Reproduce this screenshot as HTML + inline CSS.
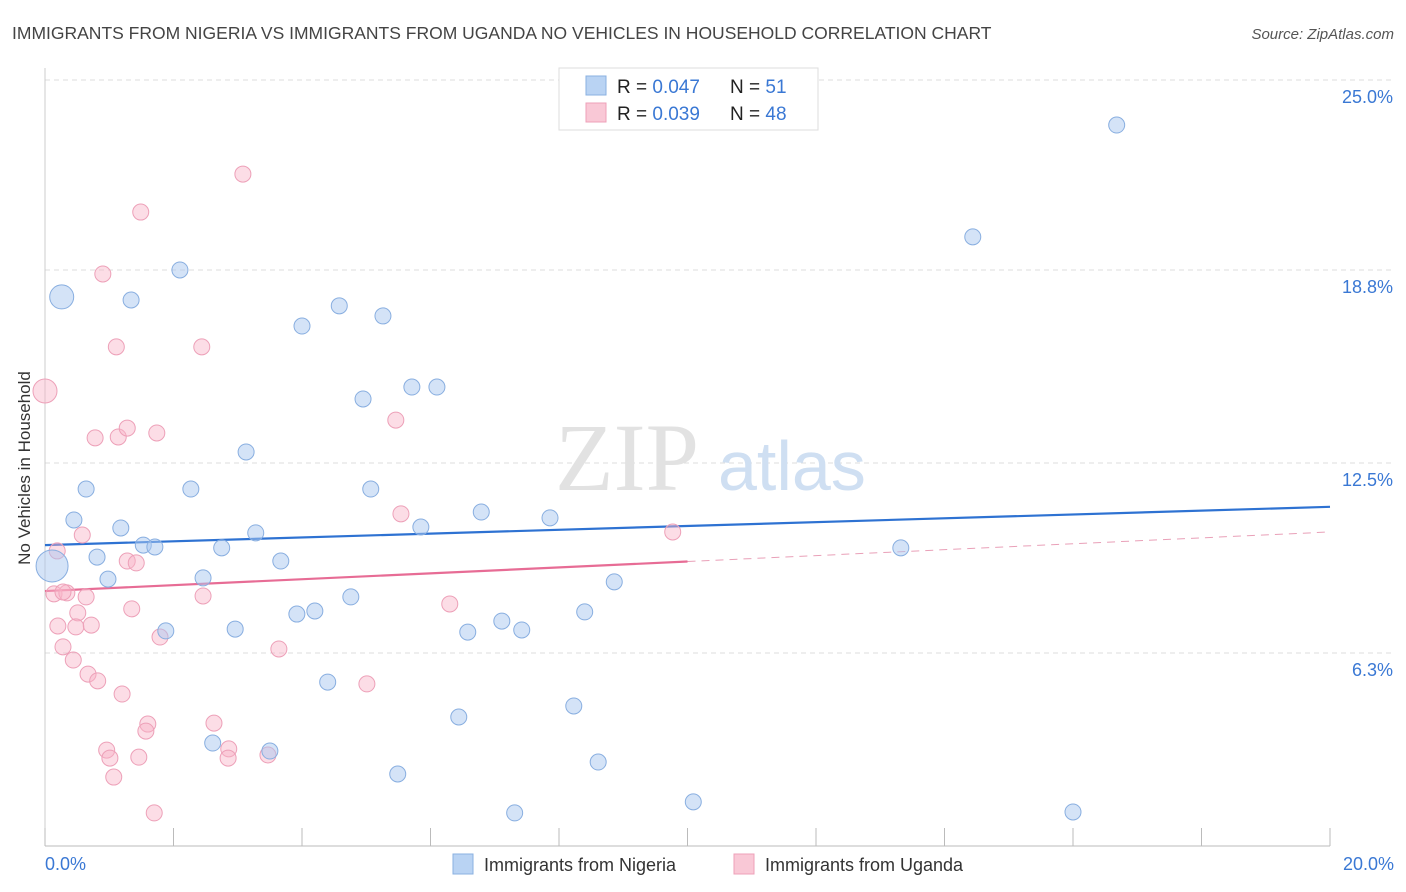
<!DOCTYPE html>
<html><head><meta charset="utf-8"><style>
body{margin:0;background:#fff;width:1406px;height:892px;overflow:hidden;font-family:"Liberation Sans",sans-serif}
svg{position:absolute;left:0;top:0}
</style></head><body>
<svg id="chart" width="1406" height="892" font-family="Liberation Sans, sans-serif">
<text x="12" y="39" font-size="17.5" fill="#444">IMMIGRANTS FROM NIGERIA VS IMMIGRANTS FROM UGANDA NO VEHICLES IN HOUSEHOLD CORRELATION CHART</text>
<text x="1394" y="39" font-size="15" fill="#555" font-style="italic" text-anchor="end">Source: ZipAtlas.com</text>
<text x="18" y="456" font-size="17" fill="#333" transform="rotate(-90 30 456)" text-anchor="middle">No Vehicles in Household</text>
<g id="grid"></g>
<text x="555" y="490" font-size="96" fill="#e2e2e2" font-family="Liberation Serif, serif">ZIP</text>
<text x="718" y="490" font-size="70" fill="#cfdff2">atlas</text>
<g id="trend"></g>
<g id="points"></g>
<g>
<rect x="559" y="68" width="259" height="62" fill="#fff" stroke="#ddd"/>
<rect x="586" y="76" width="20" height="19" fill="#b9d3f3" stroke="#8ab0e0"/>
<rect x="586" y="103" width="20" height="19" fill="#f9c8d6" stroke="#eea0b8"/>
<text x="617" y="93" font-size="19" fill="#222">R = <tspan fill="#3a78d4">0.047</tspan></text>
<text x="730" y="93" font-size="19" fill="#222">N = <tspan fill="#3a78d4"> 51</tspan></text>
<text x="617" y="120" font-size="19" fill="#222">R = <tspan fill="#3a78d4">0.039</tspan></text>
<text x="730" y="120" font-size="19" fill="#222">N = <tspan fill="#3a78d4">48</tspan></text>
</g>
<g>
<rect x="453" y="854" width="20" height="20" fill="#b9d3f3" stroke="#8ab0e0"/>
<text x="484" y="871" font-size="18" fill="#333">Immigrants from Nigeria</text>
<rect x="734" y="854" width="20" height="20" fill="#f9c8d6" stroke="#eea0b8"/>
<text x="765" y="871" font-size="18" fill="#333">Immigrants from Uganda</text>
</g>
</svg>
<script>
const blueX=[0.26,0.11,1.34,2.10,4.00,4.58,5.26,4.95,5.71,6.10,3.13,0.64,2.27,5.07,0.45,1.18,3.28,5.85,6.79,7.86,1.53,1.71,2.75,0.81,3.67,0.98,2.46,8.86,4.76,3.92,4.20,8.40,7.11,1.88,2.96,6.58,7.42,4.40,6.44,8.23,2.61,3.50,5.49,8.61,10.09,7.31,16.00,13.32,14.44,16.68,11.35];
const blueY=[17.92,9.14,17.82,18.80,16.97,17.63,17.30,14.59,14.98,14.98,12.86,11.65,11.65,11.65,10.64,10.38,10.22,10.41,10.90,10.71,9.82,9.76,9.73,9.43,9.30,8.71,8.75,8.62,8.13,7.57,7.67,7.64,7.34,7.02,7.08,6.98,7.05,5.35,4.21,4.57,3.36,3.10,2.35,2.74,1.44,1.08,1.11,9.73,19.88,23.53,25.07];
const blueR=[12,16];
const pinkX=[0,3.08,1.49,0.90,1.11,2.44,5.46,0.78,1.14,1.28,1.74,0.58,0.19,5.54,9.77,1.28,1.42,0.14,0.34,0.64,2.46,1.35,0.51,6.30,0.20,0.48,0.72,1.79,3.64,0.28,0.44,0.67,0.82,5.01,1.20,1.60,1.57,2.63,0.96,2.86,3.47,1.01,1.46,2.85,1.07,1.70,0.28];
const pinkY=[14.85,21.93,20.69,18.67,16.29,16.29,13.90,13.32,13.35,13.64,13.48,10.15,9.63,10.84,10.25,9.30,9.24,8.23,8.26,8.13,8.16,7.74,7.61,7.90,7.18,7.15,7.21,6.82,6.43,6.50,6.07,5.61,5.39,5.29,4.96,3.98,3.75,4.01,3.13,3.17,2.97,2.87,2.90,2.87,2.25,1.08,8.29];
const blueTrend=[9.82,11.07];
const pinkTrend=[8.32,10.25];
const yTicks=[25.0,18.8,12.5,6.3];
const yTickLabels=["25.0%","18.8%","12.5%","6.3%"];
const xMax=20,yMax=25;
const NS="http://www.w3.org/2000/svg";
function sx(v){return 45+v/xMax*1285;}
function sy(v){return 846-v/yMax*766;}
function mk(tag,attrs,parent){const e=document.createElementNS(NS,tag);for(const k in attrs)e.setAttribute(k,attrs[k]);parent.appendChild(e);return e;}
const grid=document.getElementById('grid');
yTicks.forEach((t,i)=>{
  const l=mk('line',{x1:45,x2:1394,y1:sy(t),y2:sy(t),stroke:'#ddd','stroke-dasharray':'5,4'},grid);
  
  
  const tx=mk('text',{x:1393,y:sy(t)+23,'font-size':18,fill:'#3a78d4','text-anchor':'end'},grid);
  tx.textContent=yTickLabels[i];
  
  
});
const ax=mk('line',{x1:45,x2:1330,y1:846,y2:846,stroke:'#bbb'},grid);


const ay=mk('line',{x1:45,x2:45,y1:68,y2:846,stroke:'#ccc'},grid);


for(let i=0;i<=10;i++){
  const t=mk('line',{x1:sx(i*2),x2:sx(i*2),y1:828,y2:846,stroke:'#bbb'},grid);
  
  
}
const x0=mk('text',{x:45,y:870,'font-size':18,fill:'#3a78d4'},grid);x0.textContent='0.0%';


const x1=mk('text',{x:1394,y:870,'font-size':18,fill:'#3a78d4','text-anchor':'end'},grid);x1.textContent='20.0%';


const pts=document.getElementById('points');
pinkX.forEach((x,i)=>{
  const c=mk('circle',{cx:sx(x),cy:sy(pinkY[i]),r:i===0?12:8,fill:'rgba(248,180,200,0.45)',stroke:'#eda0b8','stroke-width':1},pts);
  
  
});
blueX.forEach((x,i)=>{
  const c=mk('circle',{cx:sx(x),cy:sy(blueY[i]),r:i<blueR.length?blueR[i]:8,fill:'rgba(170,200,240,0.5)',stroke:'#88aee0','stroke-width':1},pts);
  
  
});
const tr=document.getElementById('trend');
const bl=mk('line',{x1:sx(0),y1:sy(blueTrend[0]),x2:sx(20),y2:sy(blueTrend[1]),stroke:'#2e72d2','stroke-width':2.2},tr);


const pm=pinkTrend[0]+(pinkTrend[1]-pinkTrend[0])*0.5;
const pl=mk('line',{x1:sx(0),y1:sy(pinkTrend[0]),x2:sx(10),y2:sy(pm),stroke:'#e76c95','stroke-width':2.2},tr);


const pd=mk('line',{x1:sx(10),y1:sy(pm),x2:sx(20),y2:sy(pinkTrend[1]),stroke:'#e9a0b8','stroke-width':1,'stroke-dasharray':'8,6'},tr);


</script>
</body></html>
